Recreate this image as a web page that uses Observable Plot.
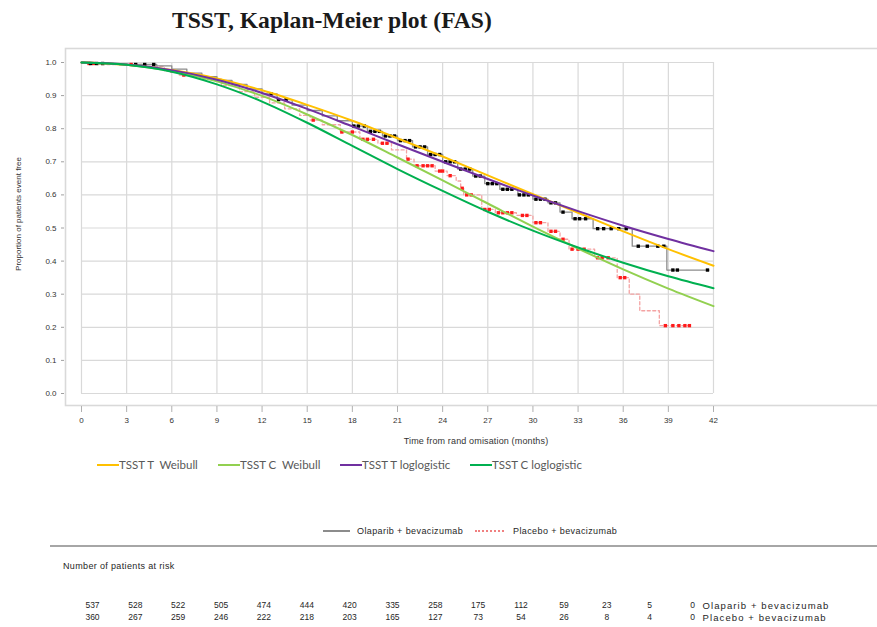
<!DOCTYPE html>
<html>
<head>
<meta charset="utf-8">
<script src="https://cdn.jsdelivr.net/npm/d3@7"></script>
<script src="https://cdn.jsdelivr.net/npm/@observablehq/plot@0.6"></script>
<style>
  body { margin: 0; background: #fff; }
  #wrap { position: relative; width: 877px; height: 627px; overflow: hidden; font-family: "Liberation Sans", Arial, sans-serif; }
  .abs { position: absolute; white-space: nowrap; }
  #title { left: 172px; top: 9px; font-family: "Liberation Serif", "Times New Roman", serif; font-weight: bold; font-size: 23.6px; line-height: 23px; color: #1a1a1a; }
  #ylab { left: 18px; top: 214px; font-size: 8px; color: #333; transform: translate(-50%, -50%) rotate(-90deg); }
  #xlab { left: 476px; top: 441px; font-size: 9px; color: #333; transform: translate(-50%, -50%); letter-spacing: 0.15px; }
  .leg1 { top: 458px; font-family: Lato, "Open Sans", sans-serif; font-size: 11.5px; color: #595959; line-height: 14px; }
  .sw { position: absolute; height: 2px; }
  .leg2 { top: 526px; font-size: 9px; color: #262626; letter-spacing: 0.4px; line-height: 11px; }
  #rule { left: 50px; top: 545px; width: 827px; height: 2px; background: #a6a6a6; }
  #riskhead { left: 63px; top: 561px; font-size: 9px; color: #262626; letter-spacing: 0.35px; line-height: 11px; }
  #chart { position: absolute; left: 0; top: 0; }
  #risk { position: absolute; left: 0; top: 590px; }
</style>
</head>
<body>
<div id="wrap">
  <div id="chart"></div>
  <div id="risk"></div>
  <div class="abs" id="title">TSST, Kaplan-Meier plot (FAS)</div>
  <div class="abs" id="ylab">Proportion of patients event free</div>
  <div class="abs" id="xlab">Time from rand omisation (months)</div>
  <div id="legend1"></div>
  <div id="legend2"></div>
  <div class="abs" id="rule"></div>
  <div class="abs" id="riskhead">Number of patients at risk</div>
</div>
<script>
// ---------- data ----------
const months = [0, 3, 6, 9, 12, 15, 18, 21, 24, 27, 30, 33, 36, 39, 42];
const yTicks = [0, 0.1, 0.2, 0.3, 0.4, 0.5, 0.6, 0.7, 0.8, 0.9, 1.0];

// fitted curves, read at each 3-month tick
const tsstTWeibull = [1.000, 0.993, 0.977, 0.952, 0.916, 0.872, 0.824, 0.771, 0.716, 0.659, 0.602, 0.546, 0.490, 0.436, 0.386];
const tsstCWeibull = [1.000, 0.993, 0.974, 0.943, 0.899, 0.843, 0.781, 0.713, 0.644, 0.574, 0.504, 0.438, 0.375, 0.317, 0.264];
const tsstTLoglog  = [1.000, 0.994, 0.977, 0.948, 0.908, 0.860, 0.807, 0.753, 0.700, 0.648, 0.598, 0.551, 0.507, 0.467, 0.430];
const tsstCLoglog  = [1.000, 0.993, 0.972, 0.934, 0.882, 0.818, 0.748, 0.678, 0.612, 0.549, 0.492, 0.441, 0.395, 0.354, 0.318];

const fitNames  = ["TSST T  Weibull", "TSST C  Weibull", "TSST T loglogistic", "TSST C loglogistic"];
const fitColors = ["#FFC000", "#92D050", "#7030A0", "#00B050"];

// Kaplan-Meier: Olaparib + bevacizumab (step times / survival)
const olapTime = [0, 0.5, 2.5, 5.0, 6.0, 7.0, 8.0, 9.0, 10.0, 11.0, 12.0, 13.0, 14.0, 15.0, 16.0, 17.0, 18.0, 19.0, 20.0, 21.0, 22.0, 23.0, 24.0, 25.0, 26.0, 26.8, 27.8, 29.0, 30.0, 31.0, 31.8, 32.6, 34.0, 36.6, 38.9, 41.7];
const olapSurv = [1.000, 0.997, 0.994, 0.990, 0.980, 0.968, 0.957, 0.946, 0.934, 0.920, 0.905, 0.888, 0.871, 0.855, 0.839, 0.824, 0.808, 0.792, 0.778, 0.764, 0.745, 0.722, 0.700, 0.678, 0.657, 0.634, 0.617, 0.600, 0.587, 0.576, 0.548, 0.528, 0.498, 0.445, 0.373, 0.373];
const olapCensor = [0.6, 1.0, 1.4, 3.6, 4.2, 4.8, 12.6, 13.1, 13.6, 18.1, 18.4, 18.8, 19.2, 19.5, 19.8, 20.2, 20.5, 20.8, 21.2, 21.5, 21.8, 22.2, 22.5, 22.8, 23.2, 23.5, 23.8, 24.2, 24.5, 24.8, 25.2, 25.5, 25.8, 26.2, 26.5, 27.0, 27.3, 27.6, 28.0, 28.3, 28.6, 29.1, 29.4, 29.7, 30.2, 30.5, 30.8, 31.2, 31.5, 32.0, 32.8, 33.1, 33.5, 34.3, 34.7, 35.2, 35.7, 36.2, 37.0, 37.6, 38.3, 38.7, 39.3, 39.6, 41.6];

// Kaplan-Meier: Placebo + bevacizumab
const placTime = [0, 0.4, 1.0, 4.0, 5.5, 6.5, 8.0, 9.3, 10.5, 11.5, 12.5, 13.5, 14.5, 15.2, 16.0, 17.2, 18.5, 19.7, 20.6, 21.6, 22.1, 23.5, 24.3, 24.9, 25.2, 25.4, 26.6, 27.5, 28.9, 30.0, 31.0, 31.8, 32.4, 34.1, 35.6, 36.4, 37.1, 38.4, 40.5];
const placSurv = [1.000, 0.997, 0.994, 0.988, 0.975, 0.962, 0.950, 0.930, 0.912, 0.895, 0.878, 0.860, 0.840, 0.826, 0.812, 0.790, 0.768, 0.756, 0.736, 0.708, 0.688, 0.672, 0.658, 0.642, 0.620, 0.600, 0.556, 0.546, 0.538, 0.516, 0.490, 0.466, 0.436, 0.410, 0.350, 0.300, 0.250, 0.205, 0.205];
const placCensor = [0.5, 0.8, 3.3, 6.0, 6.8, 7.4, 15.4, 17.3, 18.0, 18.7, 19.0, 19.4, 20.0, 20.3, 21.7, 22.3, 22.7, 23.0, 23.3, 23.8, 24.0, 24.5, 25.3, 25.6, 25.9, 26.8, 27.1, 27.7, 28.0, 28.3, 28.6, 29.3, 29.6, 30.2, 30.5, 31.2, 31.5, 32.0, 32.6, 33.0, 33.4, 34.3, 34.6, 35.0, 35.8, 36.1, 38.8, 39.3, 39.7, 40.1, 40.4];

const armNames = ["Olaparib + bevacizumab", "Placebo + bevacizumab"];
const olapRisk = [537, 528, 522, 505, 474, 444, 420, 335, 258, 175, 112, 59, 23, 5, 0];
const placRisk = [360, 267, 259, 246, 222, 218, 203, 165, 127, 73, 54, 26, 8, 4, 0];

// ---------- tables ----------
const fitted = [];
[tsstTWeibull, tsstCWeibull, tsstTLoglog, tsstCLoglog].forEach((arr, k) =>
  arr.forEach((s, i) => fitted.push({series: fitNames[k], t: months[i], s})));
const olapLine = olapTime.map((t, i) => ({t, s: olapSurv[i]}));
const placLine = placTime.map((t, i) => ({t, s: placSurv[i]}));
function stepAt(times, surv, t) { let s = surv[0]; for (let i = 0; i < times.length; i++) if (times[i] <= t) s = surv[i]; return s; }
const olapCens = olapCensor.map(t => ({t, s: stepAt(olapTime, olapSurv, t)}));
const placCens = placCensor.map(t => ({t, s: stepAt(placTime, placSurv, t)}));
const riskRows = [];
months.forEach((t, i) => { riskRows.push({t, arm: armNames[0], n: olapRisk[i]}); riskRows.push({t, arm: armNames[1], n: placRisk[i]}); });

// ---------- main chart ----------
const grid = "#d9d9d9";
const chart = Plot.plot({
  width: 877, height: 460,
  marginLeft: 81, marginRight: 164, marginTop: 62, marginBottom: 67,
  x: {domain: [0, 42]},
  y: {domain: [0, 1]},
  color: {domain: fitNames, range: fitColors},
  style: {fontFamily: "Liberation Sans, Arial, sans-serif", fontSize: "8px", color: "#333", background: "transparent"},
  marks: [
    Plot.frame({stroke: grid, strokeWidth: 1.6, insetLeft: -16, insetTop: -14, insetBottom: -12, insetRight: -220}),
    Plot.ruleX(months, {x: d => d, stroke: grid, strokeWidth: 1.2}),
    Plot.ruleY(yTicks, {y: d => d, stroke: grid, strokeWidth: 1.2}),
    Plot.axisX(months, {tickSize: 6, tickPadding: 5, dy: 13, stroke: "#b0b0b0", fill: "#333", fontSize: 8, label: null}),
    Plot.axisY(yTicks, {tickFormat: d3.format(".1f"), tickSize: 3, tickPadding: 5, dx: -17, stroke: "#a0a0a0", fill: "#333", fontSize: 8, label: null}),
    Plot.line(placLine, {x: "t", y: "s", curve: "step-after", stroke: "#f4a3a3", strokeWidth: 1.3, strokeDasharray: "3,2.5"}),
    Plot.line(olapLine, {x: "t", y: "s", curve: "step-after", stroke: "#8c8c8c", strokeWidth: 1.3}),
    Plot.dot(placCens, {x: "t", y: "s", symbol: "square", r: 1.9, fill: "#ff1a1a", stroke: null}),
    Plot.dot(olapCens, {x: "t", y: "s", symbol: "square", r: 1.9, fill: "#000", stroke: null}),
    Plot.line(fitted, {x: "t", y: "s", z: "series", stroke: "series", strokeWidth: 2, curve: "monotone-x"})
  ]
});
document.getElementById("chart").appendChild(chart);

// ---------- risk table ----------
const risk = Plot.plot({
  width: 877, height: 37,
  marginLeft: 92, marginRight: 185, marginTop: 0, marginBottom: 0,
  x: {domain: [0, 42], axis: null},
  y: {type: "point", domain: armNames, range: [15, 27], padding: 0, axis: null},
  style: {fontFamily: "Liberation Sans, Arial, sans-serif", fontSize: "8.5px", color: "#262626", background: "transparent"},
  marks: [
    Plot.text(riskRows, {x: "t", y: "arm", text: d => String(d.n), fontSize: 8.5, fill: "#262626"}),
    Plot.text(armNames, {x: () => 42, y: d => d, text: d => d, textAnchor: "start", dx: 10, fontSize: 9.5, fill: "#262626"})
  ]
});
d3.select(risk).selectAll("g[aria-label='text']").filter((d, i) => i === 1).attr("letter-spacing", "1.1px");
document.getElementById("risk").appendChild(risk);

// ---------- legends ----------
const leg1 = document.getElementById("legend1");
const leg1X = [97, 218, 340, 470];
fitNames.forEach((name, i) => {
  const sw = document.createElement("div");
  sw.className = "sw"; sw.style.left = leg1X[i] + "px"; sw.style.top = "464px"; sw.style.width = "22px"; sw.style.background = fitColors[i];
  leg1.appendChild(sw);
  const tx = document.createElement("div");
  tx.className = "abs leg1"; tx.style.left = (leg1X[i] + 22) + "px"; tx.style.whiteSpace = "pre"; tx.textContent = name;
  leg1.appendChild(tx);
});
const leg2 = document.getElementById("legend2");
const leg2X = [323, 475];
armNames.forEach((name, i) => {
  const sw = document.createElement("div");
  sw.className = "sw"; sw.style.left = leg2X[i] + "px"; sw.style.top = "530px"; sw.style.width = (i === 0 ? 27 : 29) + "px";
  if (i === 0) { sw.style.background = "#8c8c8c"; sw.style.height = "1.5px"; }
  else { sw.style.borderTop = "2px dotted #f08080"; sw.style.height = "0"; }
  leg2.appendChild(sw);
  const tx = document.createElement("div");
  tx.className = "abs leg2"; tx.style.left = (i === 0 ? 357 : 513) + "px"; tx.textContent = name;
  leg2.appendChild(tx);
});
</script>
</body>
</html>
